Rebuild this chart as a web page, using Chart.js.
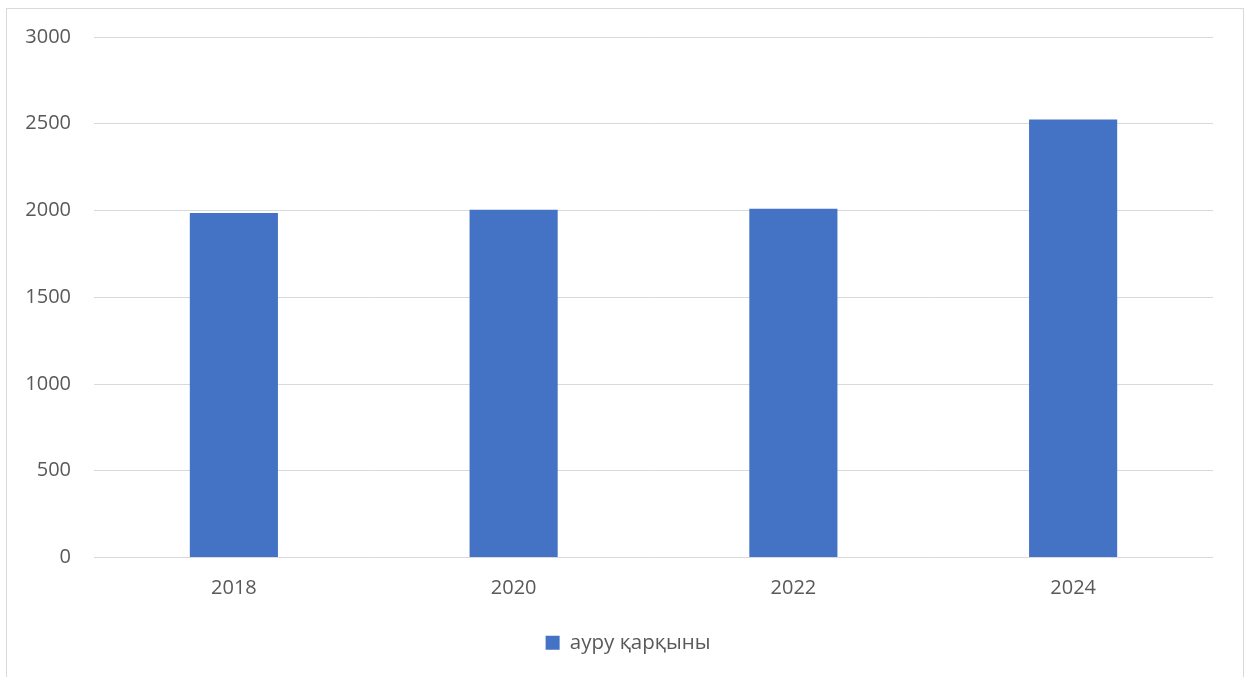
<!DOCTYPE html>
<html>
<head>
<meta charset="utf-8">
<script src="https://cdn.jsdelivr.net/npm/chart.js@4.4.1/dist/chart.umd.min.js"></script>
<style>
  html, body { margin: 0; padding: 0; background: #fff; overflow: hidden; }
  #frame { position: absolute; left: 6px; top: 8px; width: 1236px; height: 720px; border: 1px solid #d9d9d9; }
  #chart { position: absolute; left: 0; top: 0; }
</style>
</head>
<body>
<div id="frame"></div>
<canvas id="chart" width="1246" height="677"></canvas>
<script>
var years = ["2018", "2020", "2022", "2024"];
var rateValues = [1985, 2005, 2010, 2525];
var seriesName = "ауру қарқыны";
var yTicks = [0, 500, 1000, 1500, 2000, 2500, 3000];

var textColor = "#595959";
var fontFamily = "'Open Sans', 'DejaVu Sans', sans-serif";

// legend sits a bit right of the canvas centre in the original
var legendShift = {
  id: 'legendShift',
  afterLayout: function (chart) {
    chart.legend.left += 43;
  }
};

/*
 bar chart
*/
function drawChart() {
  var config = {
    type: 'bar',
    data: {
      labels: years,
      datasets: [{
        label: seriesName,
        data: rateValues,
        backgroundColor: "#4472c4",
        borderWidth: 0,
        categoryPercentage: 1,
        barPercentage: 0.315
      }]
    },
    options: {
      responsive: false,
      animation: false,
      layout: { padding: { top: 37, left: 0, right: 33, bottom: 14 } },
      plugins: {
        tooltip: { enabled: false },
        legend: {
          position: 'bottom',
          labels: {
            color: textColor,
            font: { family: fontFamily, size: 20.5 },
            boxWidth: 14,
            boxHeight: 14,
            padding: 10
          }
        }
      },
      scales: {
        x: {
          grid: { display: false, drawTicks: false },
          border: { display: false },
          ticks: { color: textColor, font: { family: fontFamily, size: 20 }, padding: 19 },
          afterFit: function (scale) { scale.height = 65; }
        },
        y: {
          min: 0,
          max: 3000,
          afterBuildTicks: function (scale) {
            scale.ticks = yTicks.map(function (v) { return { value: v }; });
          },
          grid: { color: "#d9d9d9", lineWidth: 1, drawTicks: false },
          border: { display: false },
          ticks: {
            color: textColor,
            font: { family: fontFamily, size: 20 },
            padding: 23,
            callback: function (v) { return String(v); }
          },
          afterFit: function (scale) { scale.width = 94; }
        }
      }
    },
    plugins: [legendShift]
  };
  var ctx = document.getElementById("chart").getContext("2d");
  window.myBar = new Chart(ctx, config);
}

drawChart();
</script>
</body>
</html>
